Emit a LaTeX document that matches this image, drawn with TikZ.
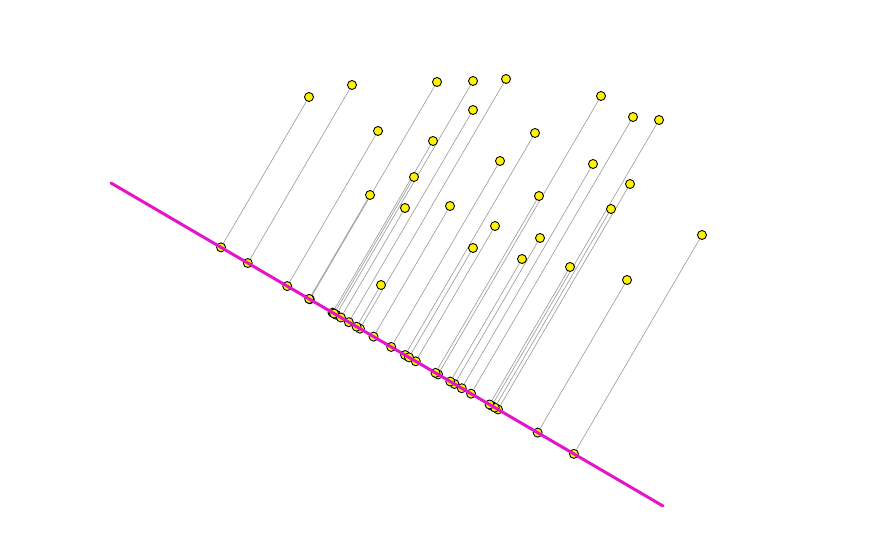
\documentclass[tikz,border=0pt]{standalone}
\usetikzlibrary{calc}
\definecolor{axiscol}{RGB}{228,20,200}
\tikzset{
  dot/.style={circle,draw=black,line width=.5pt,fill=yellow,inner sep=0pt,minimum size=.18cm},
  projline/.style={draw=gray!80,line width=.35pt},
  axisline/.style={draw=axiscol,line width=1.7pt,line cap=round}
}
\begin{document}
\begin{tikzpicture}[x=.02cm,y=-.02cm,line join=round]
	\useasboundingbox (0,0) rectangle (881,553);
	\path (111,183)coordinate (A) (663,506)coordinate (B);
	% data points
	\foreach \n/\px/\py in {1/309/97,2/352/85,3/437/82,4/473/81,5/506/79,6/601/96,7/473/110,
		8/633/117,9/659/120,10/378/131,11/535/133,12/433/141,13/500/161,14/593/164,15/414/177,
		16/630/184,17/370/195,18/539/196,19/405/208,20/450/206,21/611/209,22/495/226,23/702/235,
		24/540/238,25/473/248,26/522/259,27/570/267,28/627/280,29/381/285}
		\coordinate (p\n) at (\px,\py);
	% feet on the line
	\foreach \n in {1,...,29}\node[dot] (f\n) at ($(A)!(p\n)!(B)$) {};
	\draw[axisline] (A)--(B);
	\foreach \n in {1,...,29}{
		\node[dot] (d\n) at (p\n) {};
		\draw[projline] (d\n)--(f\n);
	}
\end{tikzpicture}
\end{document}
